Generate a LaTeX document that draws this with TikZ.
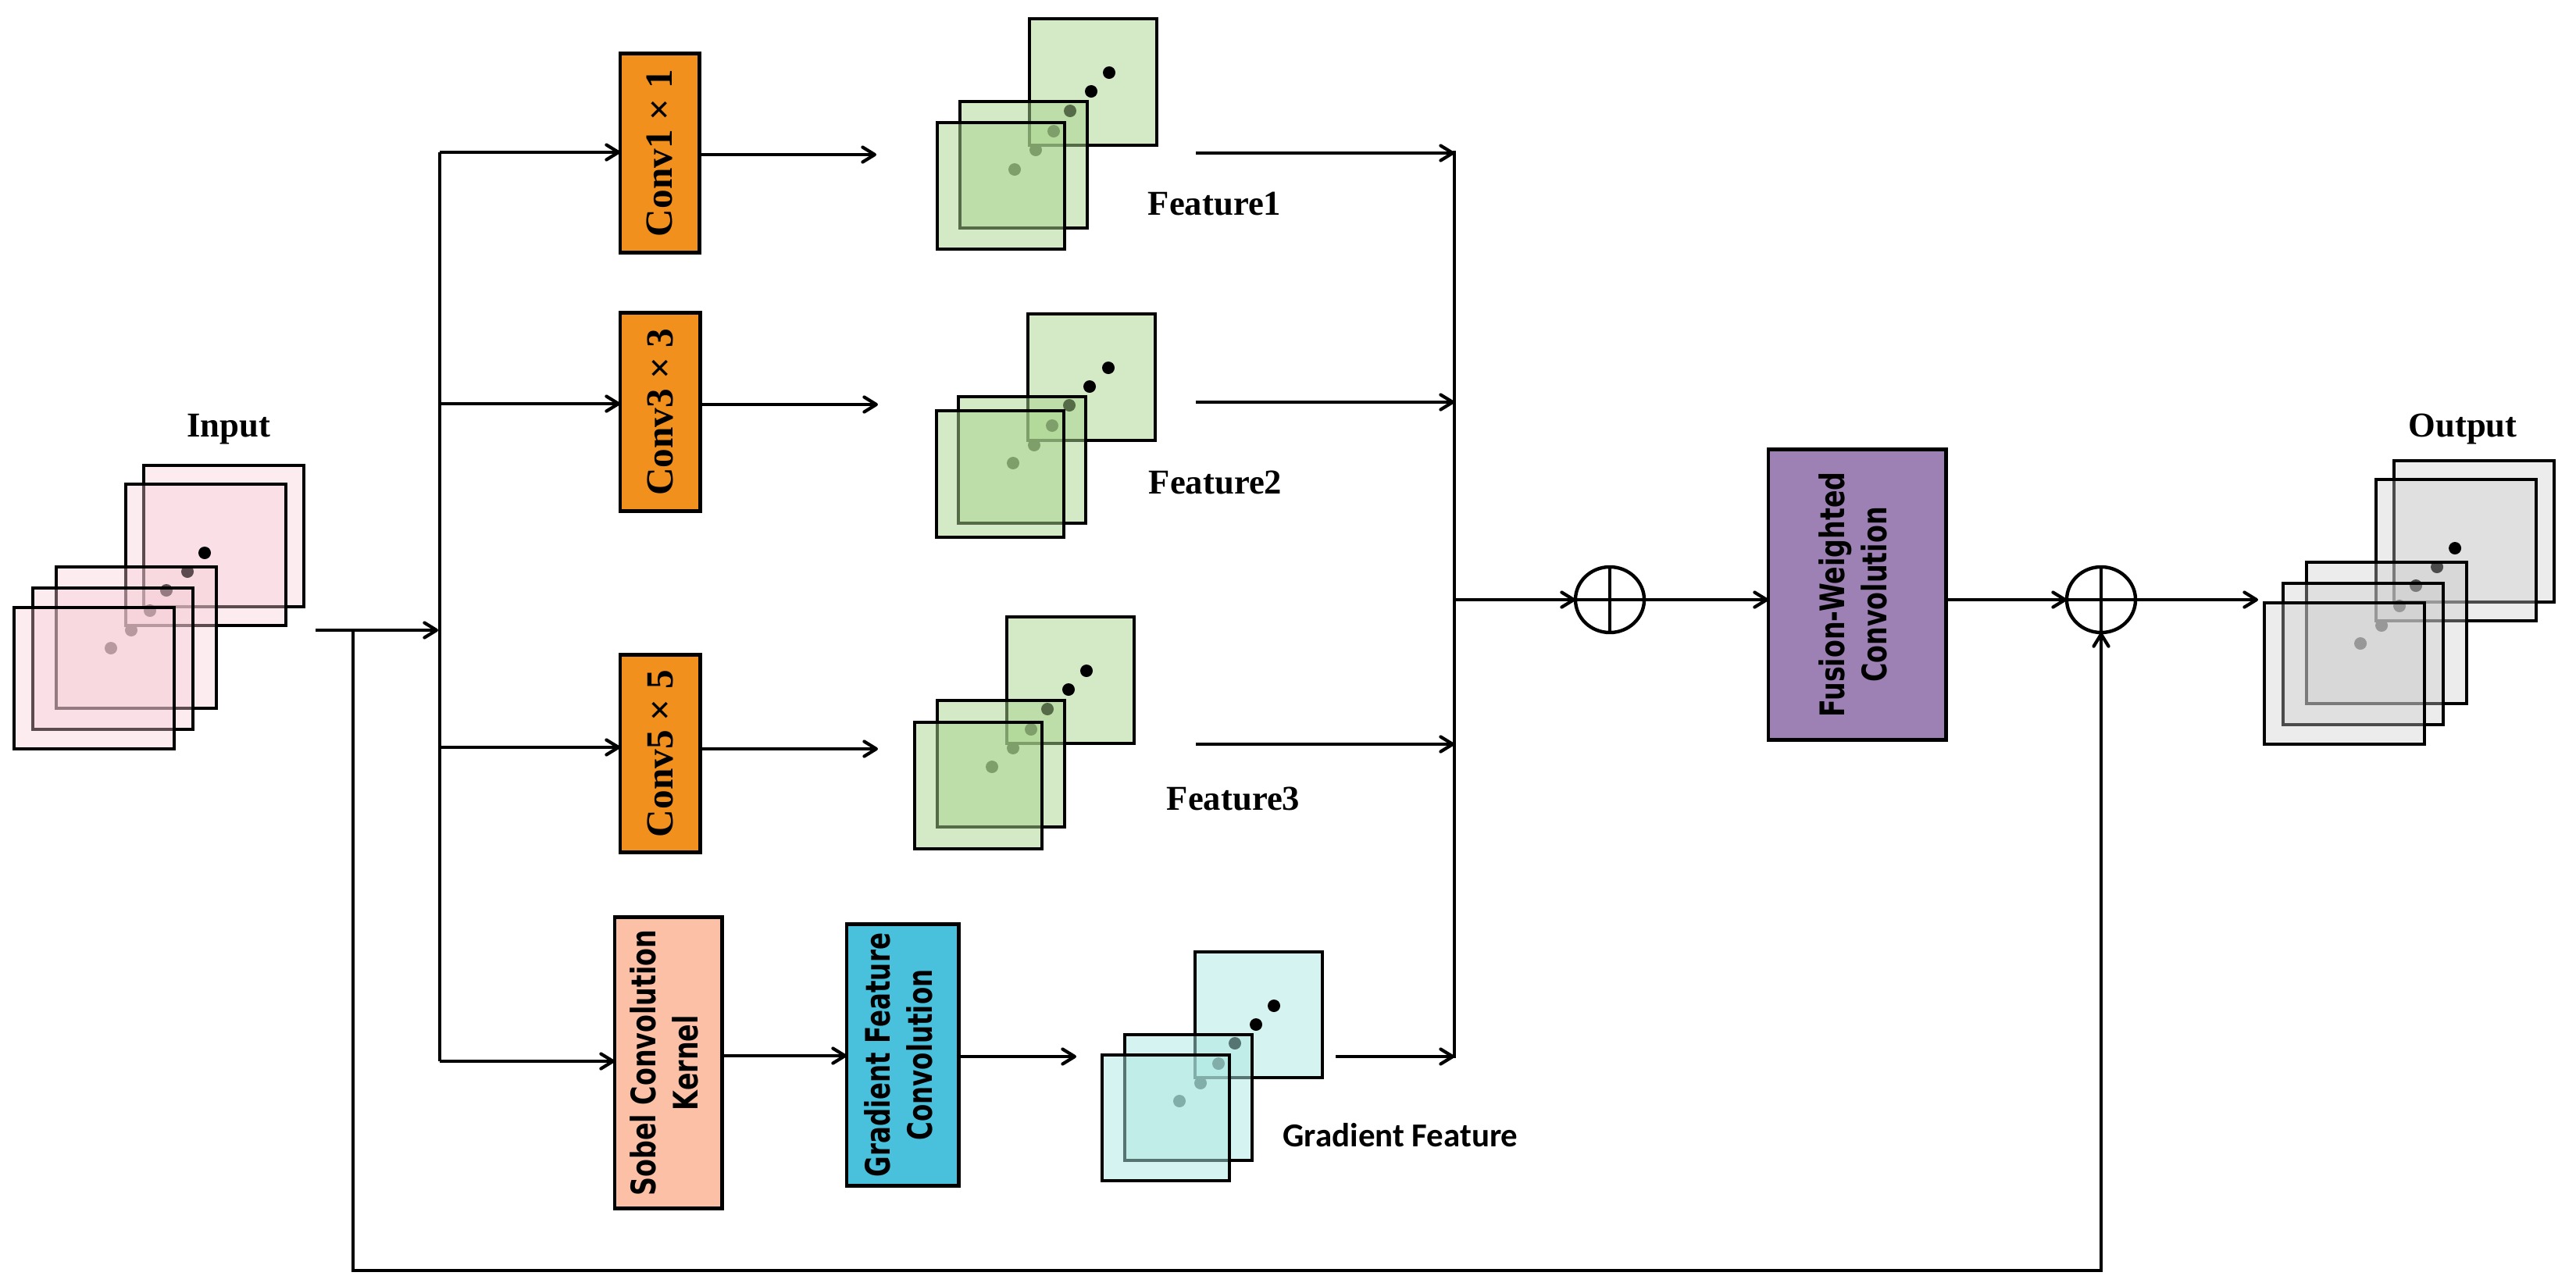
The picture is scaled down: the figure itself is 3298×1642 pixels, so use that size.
\documentclass[tikz,border=0pt]{standalone}
\usepackage{fontspec}
\usepackage{graphicx}
\setmainfont{Liberation Serif}
\newfontfamily\djv{DejaVu Sans}
\newfontfamily\carl{Carlito}
\usetikzlibrary{arrows.meta,shapes.geometric}
\definecolor{pinkC}{RGB}{247,206,215}
\definecolor{greenC}{RGB}{170,213,142}
\definecolor{cyanC}{RGB}{173,232,226}
\definecolor{grayC}{RGB}{204,204,204}
\definecolor{orangeC}{RGB}{241,144,28}
\definecolor{peachC}{RGB}{251,192,165}
\definecolor{blueC}{RGB}{74,193,220}
\definecolor{purpleC}{RGB}{157,128,180}
\newcommand{\lblfont}{\fontsize{12.7}{15}\selectfont\bfseries}
\newcommand{\convfont}{\fontsize{14}{16}\selectfont\bfseries}
\newcommand{\djfont}{\djv\fontsize{12.3}{15.5}\selectfont\bfseries}
\newcommand{\rtxt}[2]{\rotatebox{90}{\scalebox{#1}[1]{\djfont\begin{tabular}{@{}c@{}}#2\end{tabular}}}}
\begin{document}
\begin{tikzpicture}[x=0.01cm,y=-0.01cm,line width=1.2pt,
  arr/.style={-{Straight Barb[length=4.4pt,width=5.4pt,round]}},
  sqbase/.style={draw=black,line width=1.3pt,anchor=north west,inner sep=0pt,outer sep=0pt},
  sqP/.style={sqbase,fill=pinkC,fill opacity=0.37,minimum width=2.05cm,minimum height=1.81cm},
  sqO/.style={sqbase,fill=grayC,fill opacity=0.37,minimum width=2.05cm,minimum height=1.81cm},
  sqG/.style={sqbase,fill=greenC,fill opacity=0.5,minimum width=1.63cm,minimum height=1.62cm},
  sqC/.style={sqbase,fill=cyanC,fill opacity=0.5,minimum width=1.63cm,minimum height=1.61cm},
  box/.style={draw=black,line width=1.4pt,inner sep=0pt,outer sep=0pt,align=center},
  addop/.style={ellipse,draw=black,line width=1.25pt,minimum width=0.88cm,minimum height=0.84cm,inner sep=0pt,outer sep=0pt},
  lbl/.style={anchor=base,inner sep=0pt,font=\lblfont}
]
\fill[white] (0,0) rectangle (3298,1642);
\useasboundingbox (0,0) rectangle (3298,1642);

% ---------- Input stack ----------
\node[sqP] (in1) at (184,596) {};
\node[sqP] (in2) at (161,620) {};
\foreach \px/\py in {262/708,240/732,213/756,192/782,168/807,142/830}
  \fill[black] (\px,\py) circle (0.08cm);
\node[sqP] (in3) at (72,726) {};
\node[sqP] (in4) at (42,753) {};
\node[sqP] (in5) at (18,778) {};
\node[lbl] (inlbl) at (293,559) {Input};

% ---------- Output stack ----------
\node[sqO] (out1) at (3065,590) {};
\node[sqO] (out2) at (3042,614) {};
\foreach \px/\py in {3143/702,3120/726,3093/750,3072/776,3049/801,3022/824}
  \fill[black] (\px,\py) circle (0.08cm);
\node[sqO] (out3) at (2953,720) {};
\node[sqO] (out4) at (2923,747) {};
\node[sqO] (out5) at (2899,772) {};
\node[lbl] (outlbl) at (3153,559) {Output};

% ---------- Feature stacks ----------
\node[sqG] (fa1) at (1318,24) {};
\foreach \px/\py in {1420/93,1397/117,1370/142,1349/168,1326/192,1299/217}
  \fill[black] (\px,\py) circle (0.08cm);
\node[sqG] (fa2) at (1229,130) {};
\node[sqG] (fa3) at (1200,157) {};
\node[lbl] (falbl) at (1555,275) {Feature1};

\node[sqG] (fb1) at (1316,402) {};
\foreach \px/\py in {1419/471,1395/495,1369/519,1347/545,1324/570,1297/593}
  \fill[black] (\px,\py) circle (0.08cm);
\node[sqG] (fb2) at (1227,508) {};
\node[sqG] (fb3) at (1199,526) {};
\node[lbl] (fblbl) at (1556,632) {Feature2};

\node[sqG] (fc1) at (1289,790) {};
\foreach \px/\py in {1391/859,1368/883,1341/908,1320/934,1297/958,1270/982}
  \fill[black] (\px,\py) circle (0.08cm);
\node[sqG] (fc2) at (1200,897) {};
\node[sqG] (fc3) at (1171,925) {};
\node[lbl] (fclbl) at (1579,1037) {Feature3};

\node[sqC] (g1) at (1530,1219) {};
\foreach \px/\py in {1631/1288,1608/1312,1581/1336,1560/1362,1537/1387,1510/1410}
  \fill[black] (\px,\py) circle (0.08cm);
\node[sqC] (g2) at (1440,1325) {};
\node[sqC] (g3) at (1411,1351) {};
\node[anchor=base,inner sep=0pt] (glbl) at (1793,1468) {\carl\fontsize{12.2}{14}\selectfont\bfseries Gradient Feature};

% ---------- Boxes ----------
\node[box,fill=orangeC,minimum width=1.01cm,minimum height=2.54cm] (c1) at (844.5,196) {\rotatebox{90}{\convfont Conv1 × 1}};
\node[box,fill=orangeC,minimum width=1.02cm,minimum height=2.53cm] (c3) at (845,527.5) {\rotatebox{90}{\convfont Conv3 × 3}};
\node[box,fill=orangeC,minimum width=1.02cm,minimum height=2.52cm] (c5) at (845,965) {\rotatebox{90}{\convfont Conv5 × 5}};
\node[box,fill=peachC,minimum width=1.37cm,minimum height=3.72cm] (sob) at (855.5,1361) {\rtxt{0.77}{Sobel Convolution\\Kernel}};
\node[box,fill=blueC,minimum width=1.43cm,minimum height=3.34cm] (gfc) at (1155.5,1351) {\rtxt{0.75}{Gradient Feature\\Convolution}};
\node[box,fill=purpleC,minimum width=2.27cm,minimum height=3.71cm] (fus) at (2377.5,761.5) {\rtxt{0.77}{Fusion-Weighted\\Convolution}};

\node[addop] (add1) at (2061,768) {};
\draw[line width=1.25pt] (add1.north) -- (add1.south);
\draw[line width=1.25pt] (add1.west) -- (add1.east);
\node[addop] (add2) at (2690,768) {};
\draw[line width=1.25pt] (add2.north) -- (add2.south);
\draw[line width=1.25pt] (add2.west) -- (add2.east);

% ---------- Coordinates ----------
\coordinate (inR) at (404,807);
\coordinate (distIn) at (561,807);
\coordinate (dTop) at (563,195);
\coordinate (d3) at (563,517);
\coordinate (d5) at (563,957);
\coordinate (dBot) at (563,1359);
\coordinate (fb) at (452,807);
\coordinate (fbL) at (452,1627);
\coordinate (fa) at (1122,198);
\coordinate (fbin) at (1124,518);
\coordinate (fcin) at (1124,959);
\coordinate (gs) at (1000,1352);
\coordinate (gin) at (1378,1353);
\coordinate (faout) at (1531,196);
\coordinate (fbout) at (1531,515);
\coordinate (fcout) at (1531,953);
\coordinate (gout) at (1710,1353);
\coordinate (kTop) at (1862,193);
\coordinate (kBot) at (1862,1355);
\coordinate (kMid) at (1862,768);
\coordinate (outIn) at (2891,768);

% ---------- Connectors ----------
\draw[arr] (inR) -- (distIn);
\draw (dTop) -- (dBot);
\draw[arr] (dTop) -- (c1.west |- dTop);
\draw[arr] (d3) -- (c3.west |- d3);
\draw[arr] (d5) -- (c5.west |- d5);
\draw[arr] (dBot) -- (sob.west |- dBot);
\draw[arr] (c1.east |- fa) -- (fa);
\draw[arr] (c3.east |- fbin) -- (fbin);
\draw[arr] (c5.east |- fcin) -- (fcin);
\draw[arr] (sob.east |- gs) -- (gfc.west |- gs);
\draw[arr] (gfc.east |- gin) -- (gin);
\draw[arr] (faout) -- (kTop |- faout);
\draw[arr] (fbout) -- (kTop |- fbout);
\draw[arr] (fcout) -- (kTop |- fcout);
\draw[arr] (gout) -- (kTop |- gout);
\draw (kTop) -- (kBot);
\draw[arr] (kMid) -- (add1.west);
\draw[arr] (add1.east) -- (fus.west |- add1.east);
\draw[arr] (fus.east |- add2.west) -- (add2.west);
\draw[arr] (add2.east) -- (outIn);
\draw[arr] (fb) -- (fbL) -| (add2.south);
\end{tikzpicture}
\end{document}
